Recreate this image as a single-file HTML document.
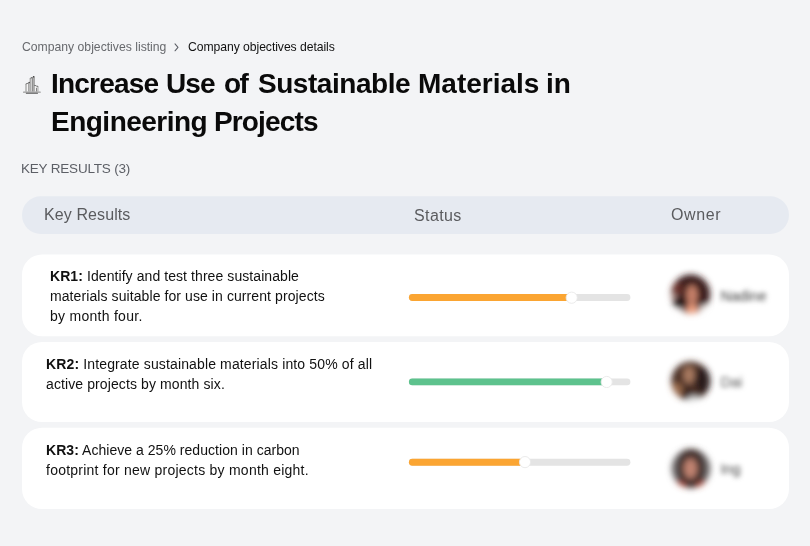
<!DOCTYPE html>
<html><head><meta charset="utf-8">
<style>
*{box-sizing:border-box;margin:0;padding:0}
html,body{width:810px;height:546px;overflow:hidden;background:#f3f4f6;font-family:"Liberation Sans",sans-serif;color:#0d0d0d}
.abs{position:absolute;white-space:nowrap;will-change:transform}
.crumb{color:#67696d;line-height:14px}
.crumb2{color:#111;line-height:14px}
.title{font-weight:bold;line-height:38px;color:#0a0a0a}
.kr{color:#5c5f66;line-height:16px}
.hd{color:#5a5b5e;line-height:18px}
.txt{line-height:20px;color:#111;transform:translateY(-0.6px)}
.txt b{font-weight:bold}
.nm{position:absolute;filter:blur(2.4px);line-height:16px;white-space:nowrap}
</style></head><body>
<svg class="abs" style="left:0;top:0" width="810" height="546" viewBox="0 0 810 546">
<defs><filter id="bl" x="-30%" y="-30%" width="160%" height="160%"><feGaussianBlur stdDeviation="3"/></filter>
<clipPath id="c1"><circle cx="690.7" cy="294" r="19.5"/></clipPath>
<clipPath id="c2"><circle cx="690.7" cy="381" r="19.5"/></clipPath>
<clipPath id="c3"><circle cx="691" cy="468.6" r="19.5"/></clipPath></defs>
<rect x="22" y="196.2" width="767" height="37.7" rx="18.8" fill="#e6eaf1"/>
<rect x="22" y="254.6" width="767" height="81.6" rx="20" fill="#fff"/>
<rect x="22" y="341.9" width="767" height="80.1" rx="20" fill="#fff"/>
<rect x="22" y="427.7" width="767" height="81.3" rx="20" fill="#fff"/>
<rect x="408.9" y="294.1" width="221.5" height="6.8" rx="3.4" fill="#e4e4e4"/>
<rect x="408.9" y="294.1" width="165" height="6.8" rx="3.4" fill="#fba532"/>
<circle cx="571.7" cy="297.7" r="5.6" fill="#fff" stroke="#e9e9e9" stroke-width="0.9"/>
<rect x="408.9" y="378.5" width="221.5" height="6.7" rx="3.35" fill="#e4e4e4"/>
<rect x="408.9" y="378.5" width="200" height="6.7" rx="3.35" fill="#5dc28d"/>
<circle cx="606.7" cy="382" r="5.6" fill="#fff" stroke="#e9e9e9" stroke-width="0.9"/>
<rect x="408.9" y="458.8" width="221.5" height="6.9" rx="3.45" fill="#e4e4e4"/>
<rect x="408.9" y="458.8" width="118" height="6.9" rx="3.45" fill="#fba532"/>
<circle cx="525" cy="462.1" r="5.6" fill="#fff" stroke="#e9e9e9" stroke-width="0.9"/>
<g filter="url(#bl)"><g clip-path="url(#c1)">
<circle cx="690.7" cy="294" r="20" fill="#3a1f1c"/>
<ellipse cx="677" cy="289" rx="6" ry="6" fill="#6a322a"/>
<ellipse cx="678.5" cy="303" rx="6" ry="5" fill="#140e0e"/>
<ellipse cx="692" cy="295" rx="5.5" ry="10" fill="#c9826a"/>
<ellipse cx="692" cy="310" rx="5.5" ry="6" fill="#f2a282"/>
<ellipse cx="706" cy="309" rx="7" ry="4.5" fill="#e8dcd8"/>
<ellipse cx="677" cy="311" rx="7" ry="3.5" fill="#e8dcd8"/>
<ellipse cx="673" cy="296.5" rx="4" ry="1.8" fill="#e0b8b0"/>
</g></g>
<g filter="url(#bl)"><g clip-path="url(#c2)">
<circle cx="690.7" cy="381" r="20" fill="#4e3027"/>
<ellipse cx="703" cy="380" rx="8" ry="13" fill="#2a1a1a"/>
<ellipse cx="689" cy="375" rx="5.5" ry="8.5" fill="#aa7c62"/>
<ellipse cx="677" cy="390" rx="6" ry="7" fill="#9a6a4c"/>
<ellipse cx="686" cy="392" rx="4" ry="6" fill="#3a2620"/>
<ellipse cx="694" cy="400" rx="7" ry="4" fill="#d8dcdc"/>
</g></g>
<g filter="url(#bl)"><g clip-path="url(#c3)">
<circle cx="691" cy="468.6" r="20" fill="#6e6a6a"/>
<ellipse cx="691" cy="468" rx="14" ry="20" fill="#43302e"/>
<ellipse cx="690.5" cy="468.5" rx="6.5" ry="10" fill="#c28472"/>
<ellipse cx="679" cy="485" rx="7" ry="4" fill="#a8402e"/>
<ellipse cx="703" cy="485" rx="7" ry="4" fill="#a8402e"/>
</g></g>
</svg>
<div class="abs crumb" style="left:22.25px;top:40px;font-size:12.2px;letter-spacing:0.004px">Company objectives listing</div>
<svg class="abs" style="left:173px;top:42px" width="8" height="10" viewBox="0 0 8 10"><path d="M2 1.9 L5 5.3 L2 8.8" fill="none" stroke="#5d6067" stroke-width="1.05" stroke-linecap="round" stroke-linejoin="round"/></svg>
<div class="abs crumb2" style="left:187.65px;top:40px;font-size:12.2px;letter-spacing:-0.062px">Company objectives details</div>
<svg class="abs" style="left:22px;top:74px" width="20" height="22" viewBox="0 0 20 22">
<polygon points="3.4,17.6 3.4,10 8.4,8.3 8.4,17.6" fill="#f4f4f4"/>
<rect x="3.4" y="10" width="1.2" height="7.6" fill="#9c9c9c"/>
<polygon points="6,17.6 6,9.2 8.2,8.5 8.2,17.6" fill="#a6a6a6"/>
<path d="M3.6 10.1 L7.6 8.6" stroke="#8a8a8a" stroke-width="1" fill="none"/>
<polygon points="7.6,17.6 7.6,4.6 12.9,2.4 12.9,17.6" fill="#f0f0f0"/>
<polygon points="7.6,17.6 7.6,4.6 9.5,3.8 9.5,17.6" fill="#adadad"/>
<rect x="10.3" y="3.6" width="0.9" height="14" fill="#666"/>
<polygon points="11.2,17.6 11.2,3.1 12.9,2.4 12.9,17.6" fill="#a2a2a2"/>
<path d="M7.8 4.5 L12 2.7" stroke="#888" stroke-width="1" fill="none"/>
<circle cx="11.7" cy="2.7" r="0.7" fill="#333"/>
<circle cx="9.6" cy="3.7" r="0.5" fill="#555"/>
<circle cx="7.2" cy="8.5" r="0.7" fill="#3c3c3c"/>
<circle cx="5" cy="9.6" r="0.5" fill="#666"/>
<polygon points="12.9,11.3 16.6,12.6 16.6,17.6 12.9,17.6" fill="#f2f2f2"/>
<rect x="14.1" y="13.8" width="1" height="3.8" fill="#777"/>
<rect x="15.3" y="12.6" width="1.3" height="5" fill="#b8b8b8"/>
<path d="M12.9 11.4 L16.4 12.6" stroke="#999" stroke-width="0.9" fill="none"/>
<circle cx="13" cy="11.5" r="0.6" fill="#444"/>
<circle cx="15.2" cy="12.3" r="0.55" fill="#555"/>
<rect x="1" y="17.4" width="17.8" height="1.4" rx="0.6" fill="#999"/>
<rect x="3.8" y="18.7" width="12.2" height="1.1" rx="0.5" fill="#555"/>
</svg>
<div class="abs title" style="left:51.0px;top:65px;font-size:28px;letter-spacing:-0.802px">Increase</div><div class="abs title" style="left:165.5px;top:65px;font-size:28px;letter-spacing:-0.952px">Use</div><div class="abs title" style="left:223.5px;top:65px;font-size:28px;letter-spacing:-1.502px">of</div><div class="abs title" style="left:257.5px;top:65px;font-size:28px;letter-spacing:-0.457px">Sustainable</div><div class="abs title" style="left:418.0px;top:65px;font-size:28px;letter-spacing:-0.008px">Materials</div><div class="abs title" style="left:546.0px;top:65px;font-size:28px;letter-spacing:-0.102px">in</div><div class="abs title" style="left:50.5px;top:103px;font-size:28px;letter-spacing:-0.508px">Engineering</div><div class="abs title" style="left:213.5px;top:103px;font-size:28px;letter-spacing:-0.851px">Projects</div>
<div class="abs kr" style="left:21.2px;top:161px;font-size:13.5px;letter-spacing:-0.192px">KEY RESULTS (3)</div>
<div class="abs hd" style="left:44.4px;top:205.5px;font-size:16px;letter-spacing:0.1px">Key Results</div><div class="abs hd" style="left:413.65px;top:206.5px;font-size:16px;letter-spacing:0.4px">Status</div><div class="abs hd" style="left:670.8px;top:205.5px;font-size:16px;letter-spacing:0.611px">Owner</div>
<div class="abs txt" style="left:49.7px;top:267px;font-size:14px;letter-spacing:0.076px"><b>KR1:</b> Identify and test three sustainable</div><div class="abs txt" style="left:50.1px;top:287px;font-size:14px;letter-spacing:0.087px">materials suitable for use in current projects</div><div class="abs txt" style="left:50.0px;top:307px;font-size:14px;letter-spacing:0.275px">by month four.</div>
<div class="abs txt" style="left:45.8px;top:355px;font-size:14px;letter-spacing:0.136px"><b>KR2:</b> Integrate sustainable materials into 50% of all</div><div class="abs txt" style="left:45.7px;top:375px;font-size:14px;letter-spacing:0.105px">active projects by month six.</div>
<div class="abs txt" style="left:45.65px;top:441px;font-size:14px;letter-spacing:0.04px"><b>KR3:</b> Achieve a 25% reduction in carbon</div><div class="abs txt" style="left:46.1px;top:461px;font-size:14px;letter-spacing:0.237px">footprint for new projects by month eight.</div>
<div class="nm" style="left:720.5px;top:288px;font-size:14.5px;color:#3a3a3a">Nadine</div>
<div class="nm" style="left:720.5px;top:374px;font-size:14.5px;color:#555">Dai</div>
<div class="nm" style="left:720.5px;top:460.5px;font-size:14.5px;color:#444">Ing</div>
</body></html>
